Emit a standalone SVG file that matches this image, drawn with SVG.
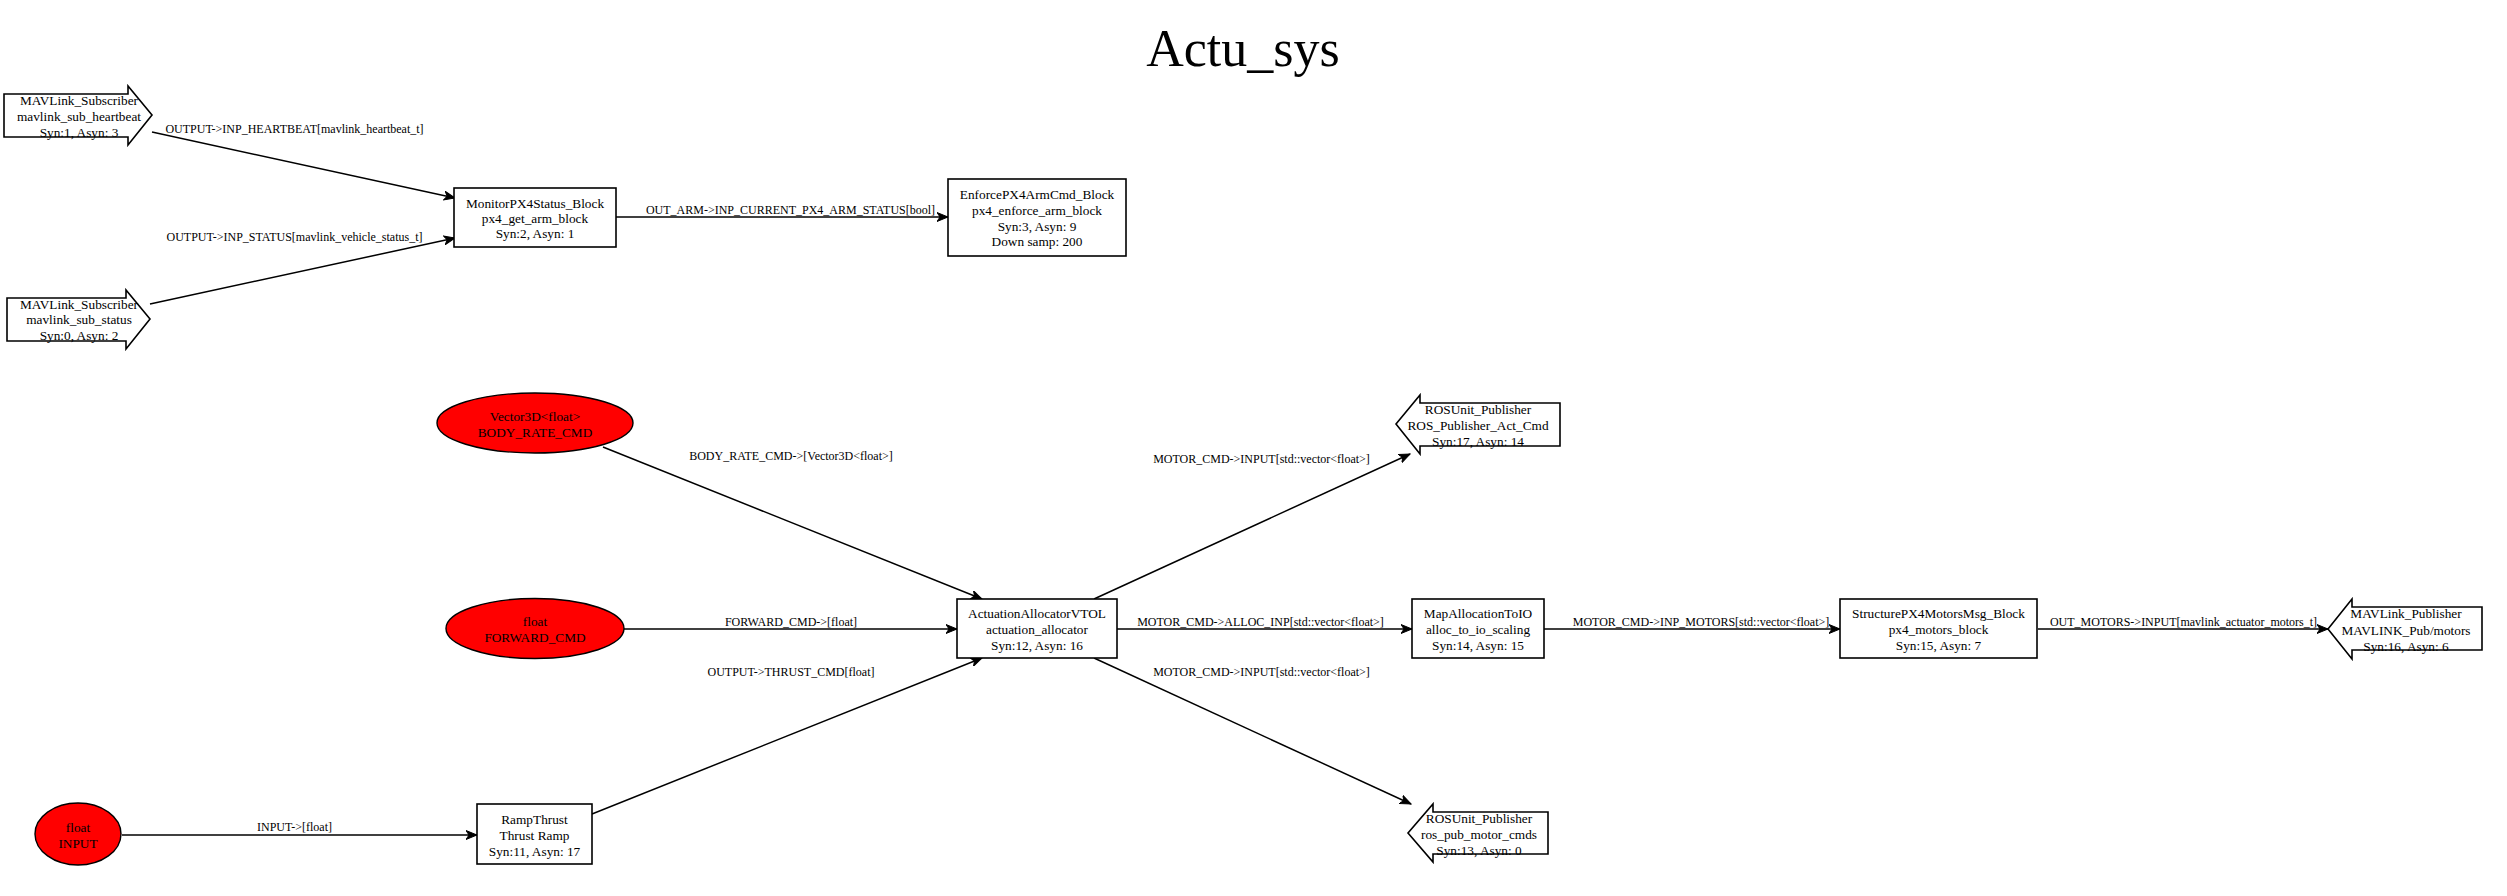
<svg xmlns="http://www.w3.org/2000/svg" width="2507" height="896" viewBox="0 0 2507 896">
<defs>
<style>
.n{fill:#fff;stroke:#000;stroke-width:1.6}
.in{fill:#ff0000;stroke:#000;stroke-width:1.4}
.t{font-family:"Liberation Serif",serif;font-size:13.3px;text-anchor:middle;fill:#000}
.l{font-family:"Liberation Serif",serif;font-size:12px;text-anchor:middle;fill:#000}
.e{stroke:#000;stroke-width:1.5;fill:none;marker-end:url(#arr)}
</style>
<marker id="arr" markerUnits="userSpaceOnUse" markerWidth="12" markerHeight="10" refX="11" refY="5" orient="auto">
<path d="M0,0.5 L11,5 L0,9.5 L3,5 Z" fill="#000" stroke="#000" stroke-width="1"/>
</marker>
</defs>
<rect width="2507" height="896" fill="#fff"/>
<text x="1243" y="66" font-family="Liberation Serif,serif" font-size="52" text-anchor="middle">Actu_sys</text>

<g id="connectors">
<line class="e" x1="152" y1="132" x2="455" y2="198"/>
<text class="l" x="294.5" y="133">OUTPUT-&gt;INP_HEARTBEAT[mavlink_heartbeat_t]</text>
<line class="e" x1="150" y1="304" x2="455" y2="238"/>
<text class="l" x="294.5" y="241">OUTPUT-&gt;INP_STATUS[mavlink_vehicle_status_t]</text>
<line class="e" x1="616" y1="217" x2="948" y2="217"/>
<text class="l" x="790.5" y="214">OUT_ARM-&gt;INP_CURRENT_PX4_ARM_STATUS[bool]</text>
<line class="e" x1="603" y1="447" x2="982" y2="599"/>
<text class="l" x="791" y="460">BODY_RATE_CMD-&gt;[Vector3D&lt;float&gt;]</text>
<line class="e" x1="624" y1="629" x2="957" y2="629"/>
<text class="l" x="791" y="626">FORWARD_CMD-&gt;[float]</text>
<line class="e" x1="122" y1="835" x2="477" y2="835"/>
<text class="l" x="294.5" y="831">INPUT-&gt;[float]</text>
<line class="e" x1="592" y1="814" x2="982" y2="658"/>
<text class="l" x="791" y="676">OUTPUT-&gt;THRUST_CMD[float]</text>
<line class="e" x1="1094" y1="599" x2="1410" y2="454"/>
<text class="l" x="1261.5" y="463">MOTOR_CMD-&gt;INPUT[std::vector&lt;float&gt;]</text>
<line class="e" x1="1117" y1="629" x2="1412" y2="629"/>
<text class="l" x="1260.5" y="626">MOTOR_CMD-&gt;ALLOC_INP[std::vector&lt;float&gt;]</text>
<line class="e" x1="1094" y1="658" x2="1411" y2="804"/>
<text class="l" x="1261.5" y="676">MOTOR_CMD-&gt;INPUT[std::vector&lt;float&gt;]</text>
<line class="e" x1="1544" y1="629" x2="1840" y2="629"/>
<text class="l" x="1701" y="626">MOTOR_CMD-&gt;INP_MOTORS[std::vector&lt;float&gt;]</text>
<line class="e" x1="2038" y1="629" x2="2328" y2="629"/>
<text class="l" x="2183.5" y="626">OUT_MOTORS-&gt;INPUT[mavlink_actuator_motors_t]</text>
</g>

<g id="mavlink_sub_heartbeat">
<polygon class="n" points="4,94 128,94 128,86 152,115 128,145 128,137 4,137"/>
<text class="t" x="79" y="105">MAVLink_Subscriber</text>
<text class="t" x="79" y="121">mavlink_sub_heartbeat</text>
<text class="t" x="79" y="137">Syn:1, Asyn: 3</text>
</g>
<g id="mavlink_sub_status">
<polygon class="n" points="7,298 126,298 126,290 150,319 126,349 126,341 7,341"/>
<text class="t" x="79" y="309">MAVLink_Subscriber</text>
<text class="t" x="79" y="324">mavlink_sub_status</text>
<text class="t" x="79" y="340">Syn:0, Asyn: 2</text>
</g>
<g id="px4_get_arm_block">
<rect class="n" x="454" y="188" width="162" height="59"/>
<text class="t" x="535" y="208">MonitorPX4Status_Block</text>
<text class="t" x="535" y="223">px4_get_arm_block</text>
<text class="t" x="535" y="238">Syn:2, Asyn: 1</text>
</g>
<g id="px4_enforce_arm_block">
<rect class="n" x="948" y="179" width="178" height="77"/>
<text class="t" x="1037" y="199">EnforcePX4ArmCmd_Block</text>
<text class="t" x="1037" y="215">px4_enforce_arm_block</text>
<text class="t" x="1037" y="231">Syn:3, Asyn: 9</text>
<text class="t" x="1037" y="246">Down samp: 200</text>
</g>
<g id="BODY_RATE_CMD">
<ellipse class="in" cx="535" cy="423" rx="98" ry="30"/>
<text class="t" x="535" y="421">Vector3D&lt;float&gt;</text>
<text class="t" x="535" y="437">BODY_RATE_CMD</text>
</g>
<g id="FORWARD_CMD">
<ellipse class="in" cx="535" cy="628.5" rx="89" ry="30"/>
<text class="t" x="535" y="626">float</text>
<text class="t" x="535" y="642">FORWARD_CMD</text>
</g>
<g id="INPUT">
<ellipse class="in" cx="78" cy="834" rx="43" ry="31"/>
<text class="t" x="78" y="832">float</text>
<text class="t" x="78" y="848">INPUT</text>
</g>
<g id="thrust_ramp">
<rect class="n" x="477" y="804" width="115" height="60"/>
<text class="t" x="534.5" y="824">RampThrust</text>
<text class="t" x="534.5" y="840">Thrust Ramp</text>
<text class="t" x="534.5" y="856">Syn:11, Asyn: 17</text>
</g>
<g id="actuation_allocator">
<rect class="n" x="957" y="599" width="160" height="59"/>
<text class="t" x="1037" y="618">ActuationAllocatorVTOL</text>
<text class="t" x="1037" y="634">actuation_allocator</text>
<text class="t" x="1037" y="650">Syn:12, Asyn: 16</text>
</g>
<g id="ROS_Publisher_Act_Cmd">
<polygon class="n" points="1560,403 1420,403 1420,395 1396,424 1420,454 1420,446 1560,446"/>
<text class="t" x="1478" y="414">ROSUnit_Publisher</text>
<text class="t" x="1478" y="430">ROS_Publisher_Act_Cmd</text>
<text class="t" x="1478" y="446">Syn:17, Asyn: 14</text>
</g>
<g id="alloc_to_io_scaling">
<rect class="n" x="1412" y="599" width="132" height="59"/>
<text class="t" x="1478" y="618">MapAllocationToIO</text>
<text class="t" x="1478" y="634">alloc_to_io_scaling</text>
<text class="t" x="1478" y="650">Syn:14, Asyn: 15</text>
</g>
<g id="ros_pub_motor_cmds">
<polygon class="n" points="1548,812 1433,812 1433,804 1408,833 1433,862 1433,854 1548,854"/>
<text class="t" x="1479" y="823">ROSUnit_Publisher</text>
<text class="t" x="1479" y="839">ros_pub_motor_cmds</text>
<text class="t" x="1479" y="855">Syn:13, Asyn: 0</text>
</g>
<g id="px4_motors_block">
<rect class="n" x="1840" y="599" width="197" height="59"/>
<text class="t" x="1938.5" y="618">StructurePX4MotorsMsg_Block</text>
<text class="t" x="1938.5" y="634">px4_motors_block</text>
<text class="t" x="1938.5" y="650">Syn:15, Asyn: 7</text>
</g>
<g id="MAVLINK_Pub_motors">
<polygon class="n" points="2482,607 2352,607 2352,599 2328,629 2352,659 2352,650 2482,650"/>
<text class="t" x="2406" y="618">MAVLink_Publisher</text>
<text class="t" x="2406" y="635">MAVLINK_Pub/motors</text>
<text class="t" x="2406" y="651">Syn:16, Asyn: 6</text>
</g>
</svg>
